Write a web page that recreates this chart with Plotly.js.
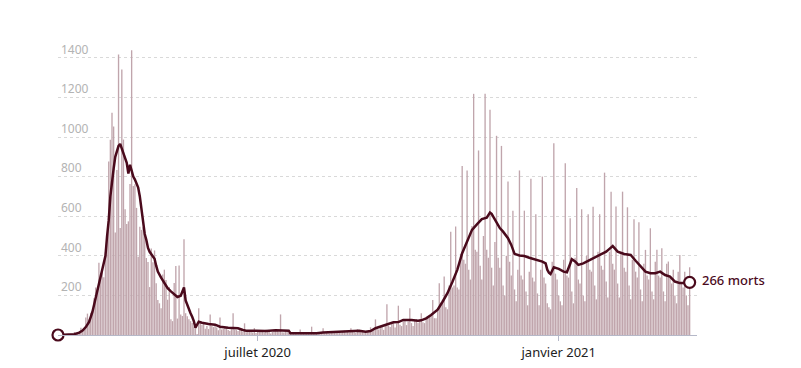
<!DOCTYPE html>
<html>
<head>
<meta charset="utf-8">
<script src="https://cdn.plot.ly/plotly-3.0.1.min.js"></script>
<style>
  html, body { margin: 0; padding: 0; background: #ffffff; }
  #chart { width: 801px; height: 368px; }
</style>
</head>
<body>
<div id="chart"></div>
<script>
// Premier jour de la série (un point par jour)
const premierJour = '2020-03-01';

// Décès quotidiens (barres), du 1er mars 2020 au 22 mars 2021
const decesQuotidiens = [
  0,1,0,1,2,1,2,3,8,8,15,12,13,
  18,36,21,27,89,108,78,112,112,186,240,231,365,299,319,292,418,499,
  876,986,1122,1053,518,833,1417,541,1341,987,635,561,574,762,1438,753,761,642,395,547,531,544,516,389,369,242,
  437,367,427,261,177,160,135,306,330,278,178,243,80,70,263,348,83,351,104,96,483,
  110,95,80,70,60,43,35,5,135,66,52,57,31,45,30,104,45,40,50,38,24,89,28,30,40,35,25,20,30,110,28,25,20,
  25,30,15,59,14,20,18,22,12,35,10,25,18,20,15,12,27,20,22,8,15,25,30,20,16,104,14,12,18,15,10,
  6,8,5,9,7,4,28,6,8,10, 7,5,9,42,8,6,10,9,5,11, 34,9,12,10,8,14,11,20,12,15, 13,10,18,22,14,16,12,34,15,14, 10,29,20,18,15,12,14,22,17,
  39,20,25,79,30,28,35,40,26,45, 155,48,40,55,62,38,58,148,52,45, 70,75,50,68,135,60,45,72,80,62, 78,110,65,
  60,80,95,90,100,177,85,
  85,130,261,150,160,295,140,
  130,250,522,240,250,548,240,
  230,410,854,380,360,831,330,
  280,550,1218,430,420,932,350,
  280,500,1218,430,390,1137,340,
  250,470,1006,390,340,955,250,
  200,400,775,370,300,627,230,
  170,330,831,300,280,628,220,
  150,320,789,290,270,610,210,
  150,330,800,290,260,160,140,
  130,370,968,310,280,200,170,
  150,380,868,300,290,590,220,
  160,390,742,280,260,635,200,
  170,400,610,330,320,648,250,
  180,420,610,350,330,820,270,
  190,420,724,360,330,649,260,
  190,420,724,340,320,645,250,
  180,380,585,320,290,570,230,
  170,360,430,300,280,539,220,
  180,370,430,300,290,438,220,
  170,360,371,290,260,330,200,
  160,320,404,260,240,320,200,
  150,342
];

// Moyenne mobile (ligne), points relevés : jour depuis le 1er mars 2020 et valeur
const ligneJours = [0,5,10,13,15,17,19,21,23,25,27,29,30,31,32,33,34,35,36,37,38,39,40,41,42,43,44,45,46,47,48,49,50,51,52,53,54,55,56,57,58,59,60,61,63,65,67,69,71,73,75,76,77,78,79,80,81,82,83,84,85,86,88,90,92,96,99,104,110,113,115,121,127,133,141,142,148,152,158,162,168,174,179,184,188,191,194,197,201,205,208,211,216,220,222,225,228,232,235,238,241,244,247,250,253,256,259,262,264,265,267,270,272,275,277,279,282,285,288,292,296,298,299,300,301,303,306,309,311,313,314,316,318,321,325,329,333,335,337,339,340,342,346,350,353,356,359,362,365,368,371,374,377,380,383,386];
const ligneValeurs = [0,1,4,12,22,40,66,115,185,245,315,400,500,580,700,790,840,900,935,955,965,940,910,895,870,815,860,830,800,785,765,745,700,640,570,510,480,440,420,410,400,385,350,320,290,262,236,220,205,192,198,215,240,175,150,125,110,92,70,37,55,67,62,58,56,52,42,37,34,25,22,21,20,24,22,9,8,8,9,12,14,18,16,21,17,20,34,42,52,64,65,76,76,72,74,84,101,128,168,211,268,329,413,472,531,559,585,592,618,612,581,540,522,489,455,410,402,399,390,380,371,362,330,315,308,342,334,320,317,360,383,372,354,362,379,396,410,421,435,449,440,421,409,404,375,349,320,312,312,320,303,295,270,262,262,266];

// Étiquettes
const yTicks = [200,400,600,800,1000,1200,1400];
const xTickDates = ['2020-07-01','2021-01-01'];
const xTickLabels = ['juillet 2020','janvier 2021'];
const etiquetteFin = '266 morts';

function ajouterJours(base, n) {
  const d = new Date(base + 'T00:00:00Z');
  d.setUTCDate(d.getUTCDate() + n);
  return d.toISOString().slice(0, 10);
}

const datesBarres = decesQuotidiens.map((_, i) => ajouterJours(premierJour, i));
const datesLigne = ligneJours.map(j => ajouterJours(premierJour, j));

const maroon = '#4a0a1c';

const traces = [
  {
    type: 'bar',
    x: datesBarres,
    y: decesQuotidiens,
    marker: { color: '#c0a5ac' },
    hoverinfo: 'skip'
  },
  {
    type: 'scatter',
    mode: 'lines',
    x: datesLigne,
    y: ligneValeurs,
    line: { color: maroon, width: 2.5 },
    hoverinfo: 'skip'
  },
  {
    type: 'scatter',
    mode: 'markers',
    x: [datesLigne[0], datesLigne[datesLigne.length - 1]],
    y: [ligneValeurs[0], ligneValeurs[ligneValeurs.length - 1]],
    marker: { size: 11, color: '#ffffff', line: { color: maroon, width: 2.2 } },
    cliponaxis: false,
    hoverinfo: 'skip'
  }
];

const layout = {
  width: 801,
  height: 368,
  margin: { l: 58, r: 104, t: 38, b: 33 },
  paper_bgcolor: '#ffffff',
  plot_bgcolor: '#ffffff',
  showlegend: false,
  bargap: 0.18,
  font: { family: 'Noto Sans, sans-serif' },
  xaxis: {
    type: 'date',
    range: ['2020-03-01', '2021-03-26 12:00'],
    tickvals: xTickDates,
    ticktext: xTickLabels,
    ticks: 'outside',
    ticklen: 5,
    tickcolor: '#b5b8c8',
    showline: true,
    linecolor: '#b5b8c8',
    linewidth: 1,
    showgrid: false,
    zeroline: false,
    tickfont: { size: 13, color: '#222222', family: 'Noto Sans, sans-serif' }
  },
  yaxis: {
    range: [0, 1500],
    tickvals: yTicks,
    ticktext: yTicks.map(String),
    ticklabelposition: 'inside top',
    ticks: '',
    showgrid: true,
    gridcolor: '#d9d9d9',
    griddash: 'dot',
    gridwidth: 1,
    zeroline: false,
    showline: false,
    tickfont: { size: 12, color: '#b3b3b3', family: 'Noto Sans, sans-serif' }
  },
  annotations: [
    {
      x: datesLigne[datesLigne.length - 1],
      y: ligneValeurs[ligneValeurs.length - 1],
      text: etiquetteFin,
      showarrow: false,
      xanchor: 'left',
      yanchor: 'middle',
      xshift: 10,
      yshift: 2,
      font: { size: 13, color: maroon, family: 'Noto Sans, sans-serif', weight: 500 }
    }
  ]
};

Plotly.newPlot('chart', traces, layout, { displayModeBar: false, staticPlot: true });
</script>
</body>
</html>
